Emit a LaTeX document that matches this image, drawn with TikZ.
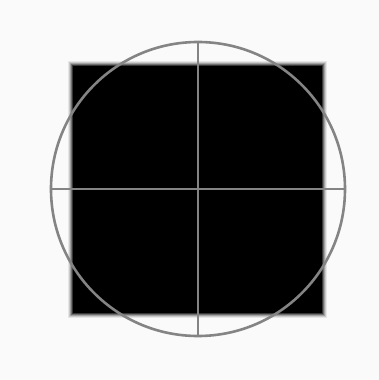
\documentclass[tikz,border=0pt]{standalone}
\usepackage{tikz}
\definecolor{bggray}{RGB}{250,250,250}
\definecolor{ringgray}{RGB}{132,132,132}
\tikzset{
  ring/.style={draw=ringgray, line width=2.6pt},
  crossline/.style={draw=ringgray, line width=2.6pt}
}

\begin{document}
\begin{tikzpicture}[x=1pt, y=-1pt]

  % Frame
  \fill[bggray] (0,0) rectangle (379,380);
  \useasboundingbox (0,0) rectangle (379,380);

  % Blurred black square
  \foreach \d/\o in {5/0.08, 4/0.12, 3/0.2, 2/0.3, 1/0.5} {
    \fill[black, opacity=\o] (73-\d,66-\d) rectangle (322+\d,313+\d);
  }
  \fill[black] (73,66) rectangle (322,313);

  % Circle and cross
  \coordinate (c) at (198,189);
  \draw[ring] (c) circle (147);
  \draw[crossline] (198,42) -- (198,336);
  \draw[crossline] (51,189) -- (345,189);

\end{tikzpicture}
\end{document}
